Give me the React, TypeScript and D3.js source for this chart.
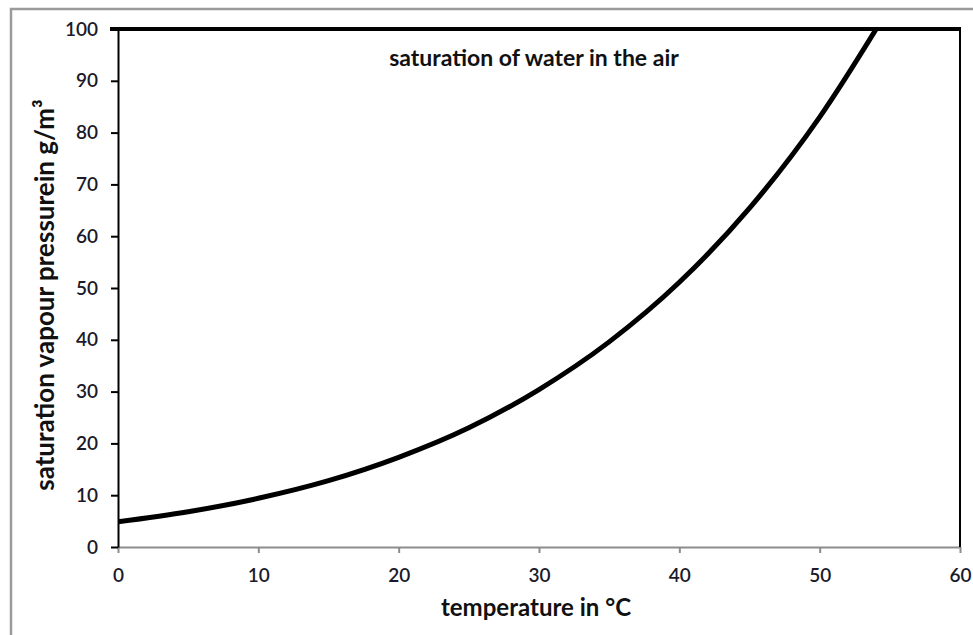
import React, { useEffect, useRef } from 'react';
import * as d3 from 'd3';

// saturation vapour density of water (g/m³) vs temperature (°C)
const temps = [0, 5, 10, 15, 20, 25, 30, 35, 40, 45, 50, 55];
const density = [4.85, 6.8, 9.4, 12.8, 17.3, 23.0, 30.4, 39.6, 51.1, 65.4, 83.0, 104.3];
const xTicks = [0, 10, 20, 30, 40, 50, 60];
const yTicks = [0, 10, 20, 30, 40, 50, 60, 70, 80, 90, 100];

const WIDTH = 973;
const HEIGHT = 635;
const FONT = 'Lato, "Open Sans", sans-serif';

const App: React.FC = () => {
  const svgRef = useRef<SVGSVGElement | null>(null);

  useEffect(() => {
    document.body.style.margin = '0';
    const svgEl = svgRef.current;
    if (!svgEl) return;

    const svg = d3.select(svgEl);
    svg.selectAll('*').remove();

    const left = 118, right = 960, top = 29, bottom = 547;
    const x = d3.scaleLinear().domain([0, 60]).range([left, right]);
    const y = d3.scaleLinear().domain([0, 100]).range([bottom, top]);

    // outer frame (cut off at right / bottom like the source)
    svg.append('rect')
      .attr('x', 11).attr('y', 9)
      .attr('width', 1000).attr('height', 700)
      .attr('fill', '#fff')
      .attr('stroke', '#9a9a9a')
      .attr('stroke-width', 2.5);

    const defs = svg.append('defs');
    defs.append('clipPath').attr('id', 'plot-clip')
      .append('rect')
      .attr('x', left).attr('y', top)
      .attr('width', right - left).attr('height', bottom - top);

    // x axis (gray)
    svg.append('g')
      .attr('transform', `translate(0,${bottom})`)
      .call(d3.axisBottom(x).tickValues(xTicks).tickSize(6).tickPadding(16).tickSizeOuter(0))
      .call((g) => g.selectAll('path,line').attr('stroke', '#8c8c8c').attr('stroke-width', 2))
      .call((g) => g.selectAll('text')
        .attr('fill', '#1a1a2a')
        .attr('font-family', FONT)
        .attr('font-weight', 600)
        .attr('font-size', 19));

    // y axis (black)
    svg.append('g')
      .attr('transform', `translate(${left},0)`)
      .call(d3.axisLeft(y).tickValues(yTicks).tickSize(7).tickPadding(13).tickSizeOuter(0))
      .call((g) => g.selectAll('path,line').attr('stroke', '#000').attr('stroke-width', 2))
      .call((g) => g.selectAll('text')
        .attr('fill', '#1a1a2a')
        .attr('font-family', FONT)
        .attr('font-weight', 600)
        .attr('font-size', 19));

    // right border and heavy top line
    svg.append('line')
      .attr('x1', right).attr('x2', right)
      .attr('y1', top).attr('y2', bottom)
      .attr('stroke', '#000').attr('stroke-width', 2);
    svg.append('line')
      .attr('x1', left - 8).attr('x2', right + 1)
      .attr('y1', y(100)).attr('y2', y(100))
      .attr('stroke', '#000').attr('stroke-width', 4);

    // curve
    const pts = temps.map((t, i) => [t, density[i]] as [number, number]);
    const line = d3.line<[number, number]>()
      .x((d) => x(d[0]))
      .y((d) => y(d[1]))
      .curve(d3.curveMonotoneX);
    svg.append('path')
      .attr('clip-path', 'url(#plot-clip)')
      .attr('d', line(pts) || '')
      .attr('fill', 'none')
      .attr('stroke', '#000')
      .attr('stroke-width', 5);

    // titles
    svg.append('text')
      .attr('x', 534).attr('y', 66)
      .attr('text-anchor', 'middle')
      .attr('font-family', FONT)
      .attr('font-weight', 700)
      .attr('font-size', 23)
      .attr('fill', '#111')
      .text('saturation of water in the air');

    svg.append('text')
      .attr('x', 536).attr('y', 616)
      .attr('text-anchor', 'middle')
      .attr('font-family', FONT)
      .attr('font-weight', 700)
      .attr('font-size', 24)
      .attr('fill', '#111')
      .text('temperature in °C');

    svg.append('text')
      .attr('transform', 'translate(54,295) rotate(-90)')
      .attr('text-anchor', 'middle')
      .attr('font-family', FONT)
      .attr('font-weight', 700)
      .attr('font-size', 26)
      .attr('fill', '#111')
      .text('saturation vapour pressurein g/m³');
  }, []);

  return (
    <svg ref={svgRef} width={WIDTH} height={HEIGHT} style={{ display: 'block' }}
      role="img" aria-label="Saturation of water in the air" />
  );
};

export default App;
